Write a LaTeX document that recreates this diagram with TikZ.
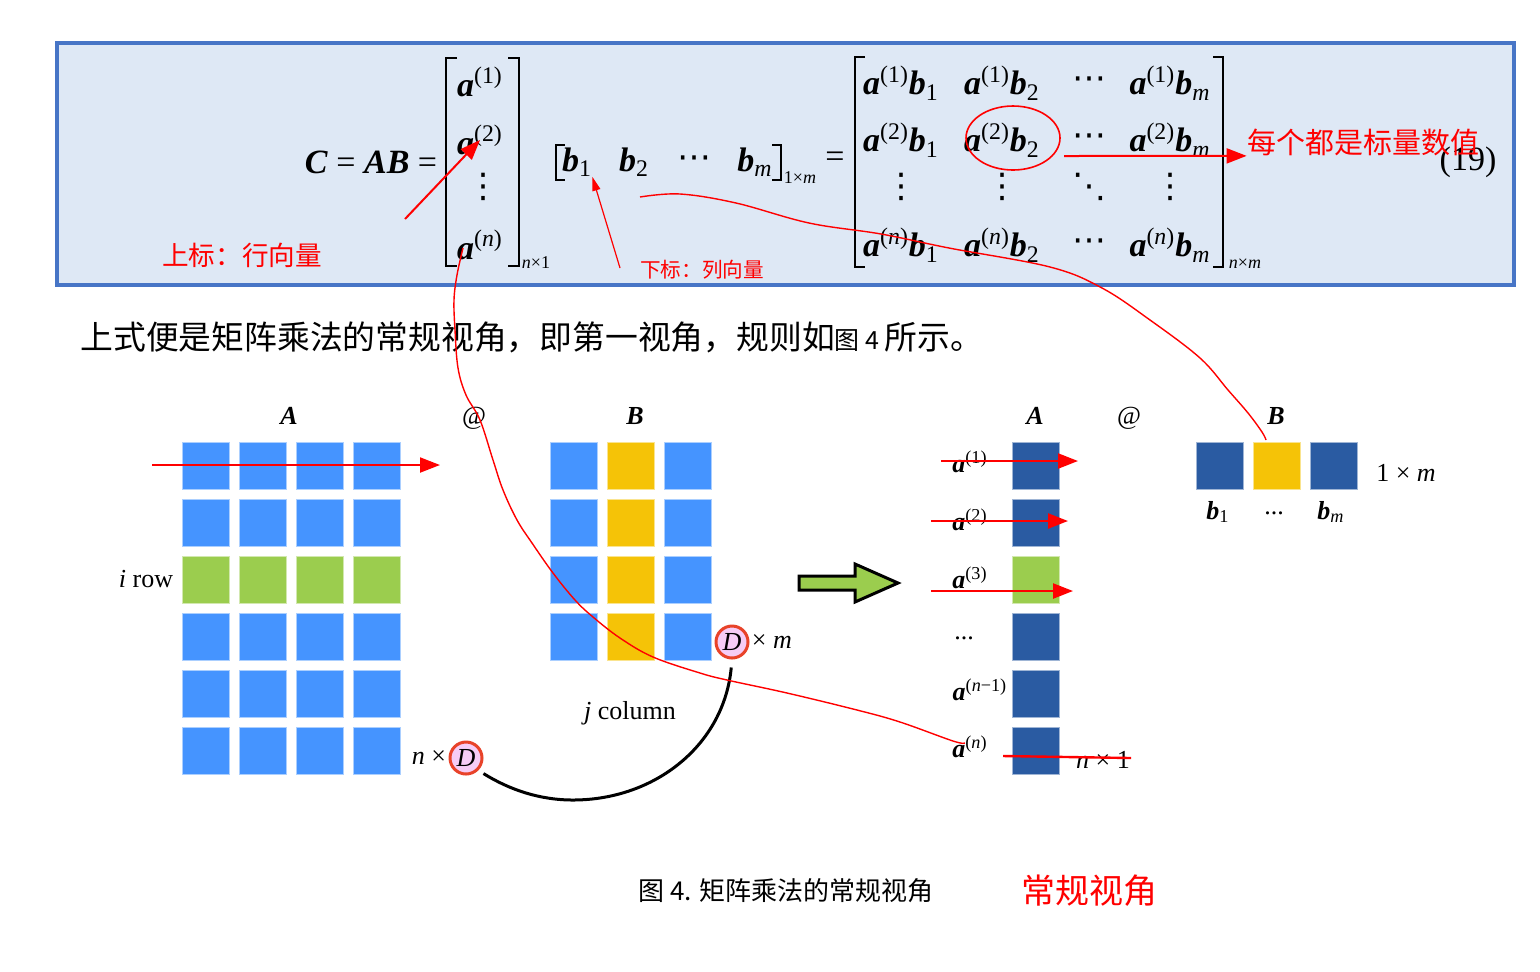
\documentclass[tikz,border=0pt]{standalone}
\usepackage{fontspec}
\setmainfont{Liberation Serif}
\newfontfamily\cjk{Noto Sans CJK SC}
\newfontfamily\symf{DejaVu Sans}
\usetikzlibrary{arrows.meta,positioning,shapes.geometric}
\definecolor{boxfill}{HTML}{DEE8F5}
\definecolor{boxline}{HTML}{4775C6}
\definecolor{cellblue}{HTML}{4594FF}
\definecolor{cellgreen}{HTML}{9BCD4E}
\definecolor{cellyellow}{HTML}{F5C307}
\definecolor{celldark}{HTML}{2A5BA2}
\definecolor{dfill}{HTML}{F6CCF6}
\definecolor{dline}{HTML}{E8432A}
\newcommand{\va}[1]{\textbf{\textit{a}}\textsuperscript{(#1)}}
\newcommand{\vb}[1]{\textbf{\textit{b}}\textsubscript{#1}}
\newcommand{\bi}[1]{\textbf{\textit{#1}}}

\begin{document}
\begin{tikzpicture}[x=0.5pt,y=-0.5pt,inner sep=1pt,
    eq/.style={inner sep=0pt,font=\fontsize{17}{20}\selectfont},
    dots/.style={inner sep=0pt,font=\symf\fontsize{17}{20}\selectfont},
    lbl/.style={font=\fontsize{13}{16}\selectfont},
    note/.style={red,inner sep=0pt},
    cell/.style={fill=#1,draw=#1!45!white,line width=0.5pt,minimum size=23.5pt,inner sep=0pt},
    dnode/.style={circle,fill=dfill,draw=dline,line width=1.5pt,minimum size=16pt,inner sep=0pt,font=\fontsize{13}{16}\selectfont\itshape},
    redtip/.style={red,line width=1pt,-{Triangle[length=10pt,width=7.5pt]}},
    hand/.style={red,line width=0.7pt}]
  \useasboundingbox (0,0) rectangle (1540,971);

  % formula (19)
  \draw[boxline,fill=boxfill,line width=1.6pt] (57,43) rectangle (1514,285);
  \node[eq] (lhs) at (371,162) {\bi{C} = \bi{AB} =};
  \draw[line width=0.8pt] (457,58) -| (446,266) -- (457,266);
  \draw[line width=0.8pt] (508,58) -| (519,266) -- (508,266);
  \foreach \y/\s/\k in {82/1/1,140/2/2,245/\textit{n}/n}
    \node[eq] (a\k) at (480,\y) {\va{\s}};
  \node[dots] (avd) at (483,187) {⋮};
  \node[font=\fontsize{9}{10}\selectfont] (asub) at (536,263) {\textit{n}×1};

  \draw[line width=0.9pt] (565,145) -| (556,180) -- (565,180);
  \draw[line width=0.9pt] (772,145) -| (781,180) -- (772,180);
  \node[eq] (b1) at (577,162) {\vb{1}};
  \node[eq] (b2) at (634,162) {\vb{2}};
  \node[dots] (bcd) at (694,162) {⋯};
  \node[eq] (bm) at (755,162) {\vb{\textit{m}}};
  \node[font=\fontsize{9}{10}\selectfont] (bsub) at (800,178) {1×\textit{m}};
  \node[eq] (eqs) at (835,160) {=};

  \draw[line width=0.8pt] (865,57) -| (855,267) -- (865,267);
  \draw[line width=0.8pt] (1213,57) -| (1223,267) -- (1213,267);
  \foreach \y/\s/\k in {83/1/1,140/2/2,245/\textit{n}/n}{
    \foreach \x/\t/\l in {901/1/1,1002/2/2,1170/\textit{m}/m}
      \node[eq] (m\k\l) at (\x,\y) {\va{\s}\vb{\t}};
    \node[dots] (mc\k) at (1089,\y) {⋯};
  }
  \foreach \x/\l in {901/1,1002/2,1170/m}
    \node[dots] (mv\l) at (\x,187) {⋮};
  \node[dots] (mdd) at (1089,187) {⋱};
  \node[font=\fontsize{9}{10}\selectfont] (msub) at (1245,264) {\textit{n}×\textit{m}};
  \node[eq] (eqno) at (1468,162) {(19)};

  % red notes on the formula
  \node[note,font=\cjk\fontsize{13.3}{16}\selectfont] (supnote) at (242,255) {上标：行向量};
  \coordinate (suptail) at (405,219);
  \draw[redtip] (suptail) -- (a2.center);
  \node[note,font=\cjk\fontsize{10.3}{12}\selectfont] (subnote) at (702,270) {下标：列向量};
  \coordinate (subtail) at (620,268);
  \draw[red,line width=0.6pt,-{Triangle[length=7pt,width=4pt]}] (subtail) -- (b1.south east);
  \node[draw=red,line width=0.8pt,ellipse,minimum width=47pt,minimum height=32pt] (ring) at (1013,138) {};
  \node[note,font=\cjk\fontsize{14.5}{17}\selectfont] (scalarnote) at (1363,142) {每个都是标量数值};
  \coordinate (scalartail) at (1064,156);
  \draw[redtip] (scalartail) -- (scalarnote.south west);

  \node[anchor=west,inner sep=0pt,font=\cjk\fontsize{16.4}{20}\selectfont] (para) at (80,337)
    {上式便是矩阵乘法的常规视角，即第一视角，规则如{\fontsize{12.5}{15}\selectfont 图 4 }所示。};

  % left: A @ B
  \foreach \r/\col in {1/cellblue,2/cellblue,3/cellgreen,4/cellblue,5/cellblue,6/cellblue}
    \foreach \c in {1,...,4}
      \node[cell=\col] (A-\r-\c) at ({148.5+57*\c},{408.5+57*\r}) {};
  \foreach \r in {1,...,4}
    \foreach \c/\col in {1/cellblue,2/cellyellow,3/cellblue}
      \node[cell=\col] (B-\r-\c) at ({516.5+57*\c},{408.5+57*\r}) {};
  \node[lbl] (Alab) at (289,416) {\bi{A}};
  \node[lbl] (at1) at (474,418) {@};
  \node[lbl] (Blab) at (635,416) {\bi{B}};
  \node[lbl,left=3pt of A-3-1] (irow) {\textit{i} row};
  \node[dnode] (Dn) at (466,758) {D};
  \node[lbl,left=0pt of Dn] (ntimes) {\textit{n} ×};
  \node[dnode] (Dm) at (732,642) {D};
  \node[lbl,right=0pt of Dm] (mtimes) {× \textit{m}};
  \node[lbl] (jcol) at (630,713) {\textit{j} column};
  \draw[line width=1.5pt,shorten <=4pt,shorten >=3pt] (Dm.south)
    .. controls (724,745) and (655,800) .. (573,800)
    .. controls (540,800) and (510,790) .. (Dn.south east);

  \draw[line width=1.5pt,line join=miter,fill=cellgreen]
    (799,576) -- (855,576) -- (855,564) -- (898,583) -- (855,602) -- (855,590) -- (799,590) -- cycle;

  % right: column A @ row B
  \foreach \r/\col in {1/celldark,2/celldark,3/cellgreen,4/celldark,5/celldark,6/celldark}
    \node[cell=\col] (RA-\r) at (1035.5,{408.5+57*\r}) {};
  \foreach \c/\col in {1/celldark,2/cellyellow,3/celldark}
    \node[cell=\col] (RB-\c) at ({1162.5+57*\c},465.5) {};
  \node[lbl] (RAlab) at (1035,416) {\bi{A}};
  \node[lbl] (at2) at (1129,418) {@};
  \node[lbl] (RBlab) at (1276,416) {\bi{B}};
  \foreach \y/\s/\k in {462/1/1,520/2/2,578/3/3,747/\textit{n}/n}
    \node[lbl] (ra\k) at (970,\y) {\va{\s}};
  \node[lbl] (radots) at (964,638) {...};
  \node[lbl] (ran1) at (980,690) {\va{\textit{n}−1}};
  \node[lbl] (nby1) at (1103,760) {\textit{n} × 1};
  \node[lbl] (onem) at (1406,473) {1 × \textit{m}};
  \node[lbl] (rb1) at (1218,512) {\vb{1}};
  \node[lbl] (rbd) at (1274,513) {...};
  \node[lbl] (rbm) at (1331,512) {\vb{\textit{m}}};

  % red marks on the figure
  \coordinate (rowtail) at (152,465);
  \coordinate (rowtip) at (440,465);
  \draw[redtip] (rowtail) -- (rowtip);
  \foreach \a/\b/\y [count=\i] in {941/1078/461,931/1068/521,931/1073/591}{
    \coordinate (hs\i) at (\a,\y);
    \coordinate (he\i) at (\b,\y);
    \draw[redtip,line width=1.2pt] (hs\i) -- (he\i);
  }
  \coordinate (strike1) at (1003,756);
  \coordinate (strike2) at (1131,758);
  \draw[red,line width=1.2pt] (strike1) -- (strike2);
  \draw[hand] plot[smooth,tension=0.6] coordinates {(640,197) (680,194) (736,203) (809,223)
    (881,234) (949,248) (1050,267) (1102,288) (1150,320) (1200,358) (1228,390) (1248,413)
    (1262,432) (1266,440)};
  \draw[hand] plot[smooth,tension=0.6] coordinates {(463,248) (457,275) (454,300) (455,330)
    (458,368) (466,395) (480,420) (493,460) (503,490) (517,520) (532,543) (553,573)
    (575,600) (593,617) (620,638) (653,657) (700,673) (727,680) (787,693) (857,710)
    (900,722) (953,741) (965,743)};

  % caption
  \node[font=\cjk\fontsize{13}{16}\selectfont] (caption) at (786,891) {图 4. 矩阵乘法的常规视角};
  \node[red,font=\cjk\fontsize{17}{20}\selectfont] (capred) at (1089,891) {常规视角};
\end{tikzpicture}
\end{document}
